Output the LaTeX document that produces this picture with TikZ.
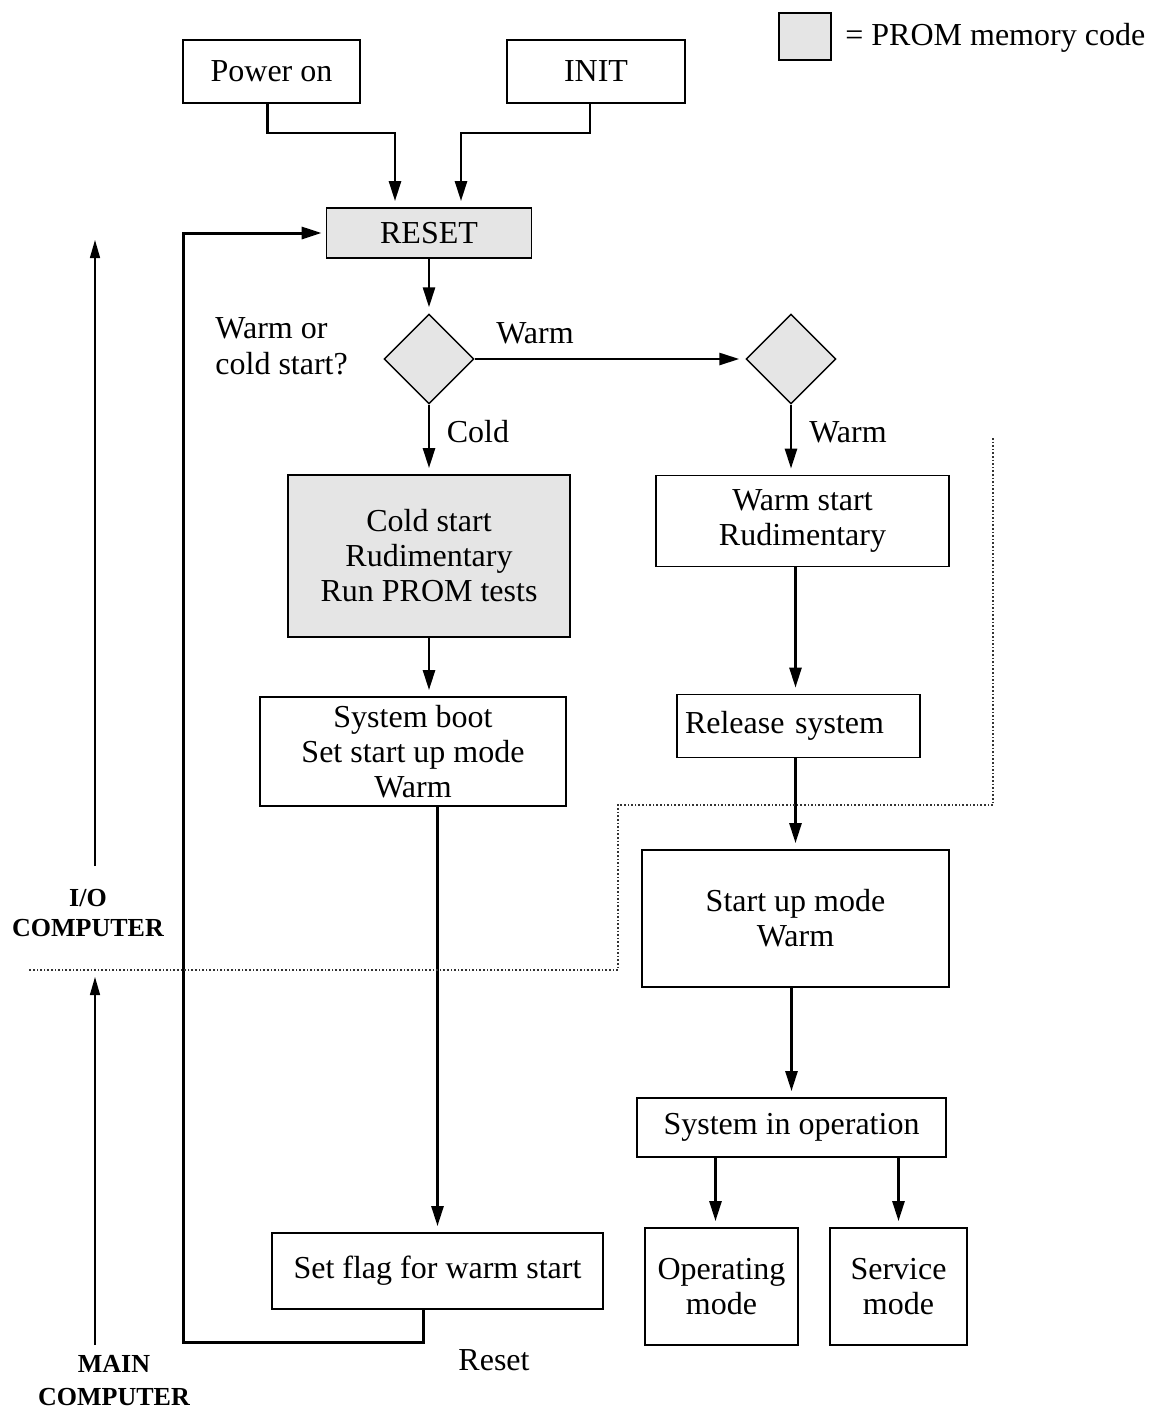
\documentclass[tikz,border=0pt]{standalone}
\usepackage{fontspec}
\setmainfont{Liberation Serif}
\usepackage{tikz}
\usetikzlibrary{arrows.meta,shapes.geometric}
\newcommand{\fsz}{\fontsize{16}{17.5}\selectfont}
\tikzset{
  box/.style={draw,line width=0.9pt,inner sep=0pt,align=center,font=\fsz},
  prom/.style={box,fill=black!10},
  decide/.style={diamond,draw,line width=0.7pt,fill=black!10,inner sep=0pt,minimum width=45pt,minimum height=45pt},
  arr/.style={line width=1.3pt,-{Triangle[length=10pt,width=6pt]},shorten >=3pt},
  axis/.style={line width=0.7pt,-{Triangle[length=9pt,width=5pt]}},
  side/.style={font=\bfseries\fontsize{13}{15}\selectfont,align=center},
  lbl/.style={font=\fsz}
}
\begin{document}
\begin{tikzpicture}[x=0.5pt,y=-0.5pt]
  \useasboundingbox (0,0) rectangle (1162,1409);
  \node[prom,minimum width=26pt,minimum height=23.5pt] (key) at (805,36.5) {};
  \node[lbl,anchor=west,inner sep=0pt] (keytxt) at (845,38) {= PROM memory code};
  \node[box,minimum width=88.5pt,minimum height=31.5pt] (pwr) at (271.5,71.5) {Power on};
  \node[box,minimum width=89pt,minimum height=31.5pt] (init) at (596,71.5) {INIT};
  \node[prom,minimum width=102.5pt,minimum height=25pt] (rst) at (429,233) {RESET};
  \node[decide] (d1) at (429,359) {};
  \node[decide] (d2) at (791,359) {};
  \node[prom,minimum width=141pt,minimum height=81pt] (cold) at (429,556) {Cold start\\Rudimentary\\Run PROM tests};
  \node[box,minimum width=146.5pt,minimum height=45.5pt] (wst) at (802.5,521) {Warm start\\Rudimentary};
  \node[box,minimum width=153pt,minimum height=54.5pt] (boot) at (413,751.5) {System boot\\Set start up mode\\Warm};
  \node[box,minimum width=121.5pt,minimum height=31.5pt,inner xsep=4pt,text width=113.5pt,align=left] (rel) at (798.5,726) {Release system};
  \node[box,minimum width=153.5pt,minimum height=68.5pt] (sup) at (795.5,918.5) {Start up mode\\Warm};
  \node[box,minimum width=154.5pt,minimum height=29.5pt] (sop) at (791.5,1127.5) {System in operation};
  \node[box,minimum width=76.5pt,minimum height=58.5pt] (opm) at (721.5,1286.5) {Operating\\mode};
  \node[box,minimum width=68.5pt,minimum height=58.5pt] (svc) at (898.5,1286.5) {Service\\mode};
  \node[box,minimum width=165.5pt,minimum height=38pt] (flag) at (437.5,1271) {Set flag for warm start};
  \node[lbl,align=left,anchor=west,inner sep=0pt,font=\fontsize{16}{18}\selectfont] (q) at (215,346) {Warm or\\cold start?};
  \node[lbl] (lwarm) at (535,333) {Warm};
  \node[lbl] (lcold) at (478,432) {Cold};
  \node[lbl] (lwarm2) at (848,432) {Warm};
  \node[lbl] (lreset) at (494,1360) {Reset};
  \node[side] (io) at (88,913) {I/O\\COMPUTER};
  \node[side,font=\bfseries\fontsize{13}{16.5}\selectfont] (mc) at (114,1381) {MAIN\\COMPUTER};
  \coordinate (lp) at (183,1342);
  \coordinate (ioa) at (95,866);
  \coordinate (iob) at (95,240);
  \coordinate (mca) at (95,1345);
  \coordinate (mcb) at (95,977);
  \draw[arr] ([xshift=-2pt]pwr.south) -- ++(0,29) -| ([xshift=-17pt]rst.north);
  \draw[arr] ([xshift=-3pt]init.south) -- ++(0,29) -| ([xshift=16pt]rst.north);
  \draw[arr] (rst.south) -- (d1.north);
  \draw[arr] (d1.east) -- (d2.west);
  \draw[arr] (d1.south) -- (cold.north -| d1.south);
  \draw[arr] (d2.south) -- (wst.north -| d2.south);
  \draw[arr] (cold.south) -- (boot.north -| cold.south);
  \draw[arr] (flag.north |- boot.south) -- (flag.north);
  \draw[arr] (sup.north |- wst.south) -- (sup.north |- rel.north);
  \draw[arr] (sup.north |- rel.south) -- (sup.north);
  \draw[arr] (sop.north |- sup.south) -- (sop.north);
  \draw[arr] ([xshift=-3pt]opm.north |- sop.south) -- ([xshift=-3pt]opm.north);
  \draw[arr] (svc.north |- sop.south) -- (svc.north);
  \draw[arr,line width=1.5pt,shorten >=2pt] ([xshift=-7pt]flag.south) |- (lp) |- (rst.west);
  \draw[axis] (ioa) -- (iob);
  \draw[axis] (mca) -- (mcb);
  \draw[densely dotted,line width=0.8pt,black!80] (993,438) |- (618,805) |- (28,970);
\end{tikzpicture}
\end{document}
